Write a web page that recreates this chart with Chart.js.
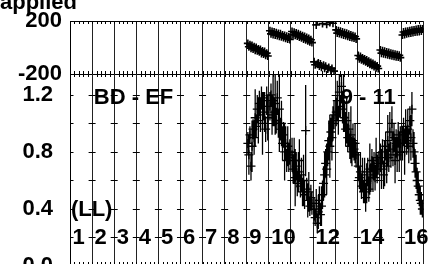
<!DOCTYPE html>
<html>
<head>
<meta charset="utf-8">
<script src="https://cdn.jsdelivr.net/npm/chart.js@4.4.1/dist/chart.umd.min.js"></script>
<style>
  html, body { margin: 0; padding: 0; background: #fff; overflow: hidden; width: 438px; height: 264px; }
  canvas { position: absolute; left: 0; top: 0; }
</style>
</head>
<body>
<canvas id="phase" width="438" height="100"></canvas>
<canvas id="amp" width="438" height="290"></canvas>
<script>
// channels that carry data, and where the samples sit inside one channel
const dataChannels = [9, 10, 11, 12, 13, 14, 15, 16];
const sampleOffsets = [0.05, 0.097, 0.145, 0.192, 0.239, 0.287, 0.334, 0.382, 0.429, 0.476,
  0.524, 0.571, 0.618, 0.666, 0.713, 0.761, 0.808, 0.855, 0.903, 0.95];

// top panel: applied phase (deg), 20 samples per channel
const phaseValues = [
  32, 6, 22, -4, 16, -10, 6, -20, 0, -24, -10, -32, -14, -44, -26, -48, -30, -58, -42, -64,
  128, 104, 122, 100, 118, 96, 112, 92, 106, 86, 104, 82, 96, 76, 92, 70, 86, 66, 80, 62,
  122, 98, 116, 94, 110, 88, 104, 80, 98, 74, 90, 66, 84, 60, 76, 52, 68, 44, 60, 38,
  -108, -130, 172, -126, -116, -140, -124, -148, 182, -134, -156, -142, 176, -162, -150, 190, -170, -158, 184, -178,
  134, 110, 128, 106, 124, 102, 118, 96, 112, 92, 108, 86, 102, 80, 96, 76, 90, 72, 84, 66,
  -60, -84, -68, -92, -78, -100, -86, -108, -94, -116, -104, -126, -112, -134, -120, -144, -130, -152, -140, -158,
  -18, -42, -24, -46, -28, -50, -34, -54, -38, -58, -42, -62, -46, -66, -50, -70, -54, -72, -58, -76,
  96, 118, 100, 122, 104, 124, 108, 128, 110, 132, 114, 134, 118, 138, 120, 140, 122, 142, 126, 140,
];

// bottom panel: amplitude and error half-width
const ampValues = [
  0.86, 0.78, 0.92, 0.70, 0.84, 0.96, 0.90, 1.04, 0.98, 1.10, 1.02, 1.14, 1.06, 1.18, 1.00, 1.12, 1.08, 0.96, 1.16, 1.04,
  1.12, 1.20, 1.06, 1.16, 1.08, 1.14, 1.02, 1.18, 1.00, 1.10, 0.96, 1.00, 0.86, 0.92, 0.80, 0.86, 0.74, 0.84, 0.76, 0.80,
  0.78, 0.68, 0.74, 0.62, 0.70, 0.58, 0.66, 0.74, 0.56, 0.64, 0.52, 0.60, 0.50, 0.95, 0.54, 0.46, 0.52, 0.42, 0.48, 0.44,
  0.40, 0.34, 0.44, 0.30, 0.38, 0.46, 0.36, 0.42, 0.50, 0.58, 0.64, 0.72, 0.68, 0.80, 0.88, 0.84, 0.94, 0.90, 1.00, 1.06,
  1.08, 1.16, 1.02, 1.22, 1.12, 1.26, 1.10, 1.18, 1.04, 0.96, 1.02, 0.90, 0.96, 0.84, 0.92, 0.80, 0.88, 0.82, 0.86, 0.78,
  0.70, 0.62, 0.66, 0.56, 0.64, 0.52, 0.60, 0.48, 0.58, 0.66, 0.54, 0.68, 0.62, 0.74, 0.64, 0.70, 0.62, 0.76, 0.68, 0.72,
  0.76, 0.68, 0.80, 0.64, 0.72, 0.84, 0.70, 0.88, 0.76, 0.94, 0.78, 1.00, 0.82, 0.90, 0.74, 0.86, 0.78, 0.92, 0.80, 0.86,
  0.86, 0.94, 0.80, 0.98, 0.88, 0.96, 0.84, 1.02, 0.90, 1.10, 0.86, 0.80, 0.72, 0.66, 0.60, 0.56, 0.50, 0.46, 0.44, 0.40,
];
const ampErrors = [
  0.08, 0.14, 0.06, 0.10, 0.18, 0.07, 0.12, 0.20, 0.08, 0.10, 0.16, 0.09, 0.12, 0.08, 0.22, 0.10, 0.14, 0.09, 0.10, 0.16,
  0.10, 0.08, 0.14, 0.18, 0.10, 0.22, 0.09, 0.12, 0.10, 0.30, 0.08, 0.16, 0.12, 0.09, 0.20, 0.12, 0.08, 0.14, 0.10, 0.09,
  0.12, 0.10, 0.16, 0.20, 0.10, 0.09, 0.14, 0.15, 0.08, 0.12, 0.10, 0.18, 0.10, 0.32, 0.08, 0.12, 0.14, 0.07, 0.09, 0.08,
  0.08, 0.06, 0.10, 0.07, 0.12, 0.10, 0.08, 0.14, 0.10, 0.12, 0.16, 0.10, 0.18, 0.10, 0.14, 0.22, 0.10, 0.16, 0.12, 0.10,
  0.10, 0.14, 0.10, 0.18, 0.08, 0.12, 0.10, 0.24, 0.10, 0.12, 0.16, 0.10, 0.12, 0.09, 0.20, 0.10, 0.12, 0.08, 0.14, 0.09,
  0.10, 0.08, 0.14, 0.09, 0.12, 0.08, 0.16, 0.10, 0.14, 0.10, 0.09, 0.18, 0.10, 0.08, 0.12, 0.10, 0.09, 0.14, 0.10, 0.08,
  0.10, 0.14, 0.09, 0.10, 0.16, 0.10, 0.12, 0.18, 0.10, 0.14, 0.09, 0.12, 0.12, 0.10, 0.16, 0.10, 0.12, 0.09, 0.14, 0.12,
  0.12, 0.10, 0.16, 0.12, 0.10, 0.14, 0.12, 0.10, 0.16, 0.12, 0.10, 0.14, 0.10, 0.12, 0.09, 0.10, 0.08, 0.10, 0.08, 0.06,
];

const channelLabels = ['1', '2', '3', '4', '5', '6', '7', '8', '9', '10', '12', '14', '16'];
const channelLabelPos = [1, 2, 3, 4, 5, 6, 7, 8, 9, 10, 12, 14, 16];
const phaseTicks = [-200, 0, 200];
const ampTicks = [0, 0.4, 0.8, 1.2];

const FONT = '"Liberation Sans", Arial, Helvetica, sans-serif';
const tickFont = { family: FONT, size: 22, weight: 'bold' };

// sample x position = start of its channel + offset inside the channel
const sampleX = [];
for (const ch of dataChannels) {
  for (const off of sampleOffsets) sampleX.push(ch - 1 + off);
}

const phasePoints = phaseValues.map((v, i) => ({ x: sampleX[i], y: v }));
const ampPoints = ampValues.map((v, i) => ({ x: sampleX[i], y: v }));
const errPoints = [];
ampValues.forEach((v, i) => {
  errPoints.push({ x: sampleX[i], y: v - ampErrors[i] });
  errPoints.push({ x: sampleX[i], y: v + ampErrors[i] });
  errPoints.push({ x: sampleX[i], y: null });
});

const half = (v) => Math.round(v) + 0.5;

function xAxis() {
  return {
    type: 'linear',
    min: 0,
    max: 16,
    afterFit: (s) => { s.height = 0; },
    ticks: { display: false, stepSize: 1 },
    grid: { color: '#222', lineWidth: 1, drawTicks: false },
    border: { display: false },
  };
}

// minor ticks along the frame of the top panel, plus the "applied" label
const phaseDecor = {
  id: 'phaseDecor',
  afterDraw(chart) {
    const { ctx, chartArea: a, scales: { x } } = chart;
    ctx.save();
    ctx.strokeStyle = '#000';
    ctx.lineWidth = 1;
    ctx.beginPath();
    for (let m = 1; m < 80; m++) {
      const px = half(x.getPixelForValue(m / 5));
      ctx.moveTo(px, Math.round(a.top));
      ctx.lineTo(px, Math.round(a.top) + 3);
      ctx.moveTo(px, Math.round(a.bottom) - 3);
      ctx.lineTo(px, Math.round(a.bottom) + 3);
    }
    ctx.stroke();
    ctx.fillStyle = '#000';
    ctx.font = `bold 22px ${FONT}`;
    ctx.textAlign = 'left';
    ctx.textBaseline = 'alphabetic';
    ctx.fillText('applied', 0, 8.5);
    ctx.restore();
  },
};

// cross ticks at the grid, bottom minor ticks and the text inside the lower panel
const ampDecor = {
  id: 'ampDecor',
  afterDraw(chart) {
    const { ctx, chartArea: a, scales: { x, y } } = chart;
    ctx.save();
    ctx.strokeStyle = '#000';
    ctx.lineWidth = 1;
    ctx.beginPath();
    for (let ch = 0; ch <= 16; ch++) {
      const px = x.getPixelForValue(ch);
      for (let k = 1; k <= 6; k++) {
        const py = half(y.getPixelForValue(k * 0.2));
        ctx.moveTo(ch === 0 ? px : px - 3.5, py);
        ctx.lineTo(ch === 16 ? px : px + 3.5, py);
      }
    }
    for (let m = 1; m < 80; m++) {
      const px = half(x.getPixelForValue(m / 5));
      ctx.moveTo(px, Math.round(a.bottom));
      ctx.lineTo(px, Math.round(a.bottom) - 4);
    }
    ctx.stroke();

    ctx.fillStyle = '#000';
    ctx.font = `bold 22px ${FONT}`;
    ctx.textAlign = 'left';
    ctx.textBaseline = 'middle';
    channelLabels.forEach((t, i) => {
      ctx.fillText(t, x.getPixelForValue(channelLabelPos[i] - 1) + 2.5, y.getPixelForValue(0.2));
    });
    ctx.fillText('BD - EF', x.getPixelForValue(1.08), y.getPixelForValue(1.18));
    ctx.fillText('9 - 11', x.getPixelForValue(12.25), y.getPixelForValue(1.18));
    ctx.fillText('(LL)', x.getPixelForValue(0.04), y.getPixelForValue(0.39));
    ctx.restore();
  },
};

const common = {
  responsive: false,
  animation: false,
  events: [],
  plugins: { legend: { display: false }, tooltip: { enabled: false } },
};

// eslint-disable-next-line no-new
new Chart(document.getElementById('phase'), {
  type: 'scatter',
  plugins: [phaseDecor],
  data: {
    datasets: [{
      data: phasePoints,
      pointStyle: 'cross',
      pointRadius: 4,
      borderWidth: 1.6,
      borderColor: '#000',
      backgroundColor: '#000',
    }],
  },
  options: {
    ...common,
    layout: { padding: { top: 20.7, bottom: 26, left: 0, right: 14.5 } },
    scales: {
      x: xAxis(),
      y: {
        min: -200,
        max: 200,
        afterFit: (s) => { s.width = 70; },
        afterBuildTicks: (s) => { s.ticks = phaseTicks.map((v) => ({ value: v })); },
        ticks: {
          font: tickFont,
          color: '#000',
          padding: 8,
          callback: (v) => (v === 0 ? '' : String(v)),
        },
        grid: { color: '#000', lineWidth: 1, drawTicks: false },
        border: { color: '#000', width: 1 },
      },
    },
  },
});

// eslint-disable-next-line no-new
new Chart(document.getElementById('amp'), {
  type: 'scatter',
  plugins: [ampDecor],
  data: {
    datasets: [
      {
        data: errPoints,
        showLine: true,
        spanGaps: false,
        pointRadius: 0,
        borderWidth: 1.3,
        borderColor: '#000',
      },
      {
        data: ampPoints,
        pointStyle: 'cross',
        pointRadius: 4.5,
        borderWidth: 1.3,
        borderColor: '#000',
        backgroundColor: '#000',
      },
    ],
  },
  options: {
    ...common,
    layout: { padding: { top: 74, bottom: 24, left: 0, right: 14.5 } },
    scales: {
      x: xAxis(),
      y: {
        min: 0,
        max: 1.347,
        afterFit: (s) => { s.width = 70; },
        afterBuildTicks: (s) => { s.ticks = ampTicks.map((v) => ({ value: v })); },
        ticks: {
          font: tickFont,
          color: '#000',
          padding: 9,
          callback: (v) => v.toFixed(1),
        },
        grid: { display: false },
        border: { color: '#000', width: 1 },
      },
    },
  },
});
</script>
</body>
</html>
